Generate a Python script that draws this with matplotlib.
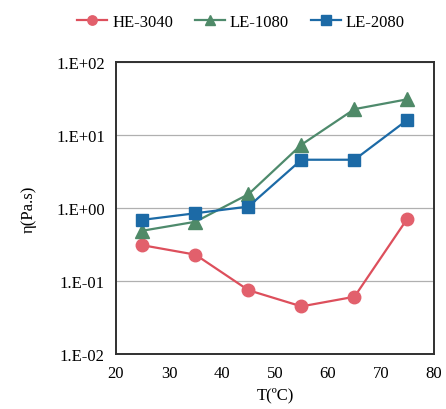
import numpy as np
import matplotlib.pyplot as plt
from matplotlib.ticker import FixedLocator, FixedFormatter

# temperatures (deg C) and viscosities (Pa.s)
temps = [25, 35, 45, 55, 65, 75]
he_3040 = [0.31, 0.23, 0.075, 0.045, 0.061, 0.72]
le_1080 = [0.49, 0.65, 1.55, 7.4, 22.7, 31]
le_2080 = [0.69, 0.85, 1.05, 4.6, 4.6, 16.2]

y_ticks = [1e-2, 1e-1, 1e0, 1e1, 1e2]
y_labels = ['1.E-02', '1.E-01', '1.E+00', '1.E+01', '1.E+02']

plt.rcParams['font.family'] = ['Liberation Serif', 'DejaVu Serif']

fig = plt.figure(figsize=(4.46, 4.10), dpi=100)
ax = fig.add_axes([0.26, 0.134, 0.713, 0.712])

ax.plot(temps, he_3040, color='#dd4f5c', marker='o', markersize=9,
        markerfacecolor='#e2606c', markeredgecolor='#e2606c', lw=1.6, label='HE-3040')
ax.plot(temps, le_1080, color='#4e8a6c', marker='^', markersize=10,
        markerfacecolor='#4f8a68', markeredgecolor='#4f8a68', lw=1.6, label='LE-1080')
ax.plot(temps, le_2080, color='#1c6aa6', marker='s', markersize=9,
        markerfacecolor='#1c6aa6', markeredgecolor='#1c6aa6', lw=1.6, label='LE-2080')

ax.set_yscale('log')
ax.set_ylim(1e-2, 1e2)
ax.set_xlim(20, 80)
ax.yaxis.set_major_locator(FixedLocator(y_ticks))
ax.yaxis.set_major_formatter(FixedFormatter(y_labels))
ax.yaxis.set_minor_locator(FixedLocator([]))
ax.set_xticks(np.arange(20, 81, 10))
ax.grid(axis='y', color='#b0b0b0', lw=0.9)
ax.set_axisbelow(True)

for s in ax.spines.values():
    s.set_linewidth(1.4)
    s.set_color('#303030')
ax.tick_params(length=0, labelsize=12, pad=8)

ax.set_xlabel('T(ºC)', fontsize=12, labelpad=4)
ax.set_ylabel('η(Pa.s)', fontsize=12, labelpad=14)

fig.legend(loc='upper center', bbox_to_anchor=(0.54, 1.0), ncol=3, frameon=False,
           fontsize=12, handlelength=1.8, columnspacing=1.3, handletextpad=0.3,
           markerscale=0.75)

fig.savefig('out.png', dpi=100)
